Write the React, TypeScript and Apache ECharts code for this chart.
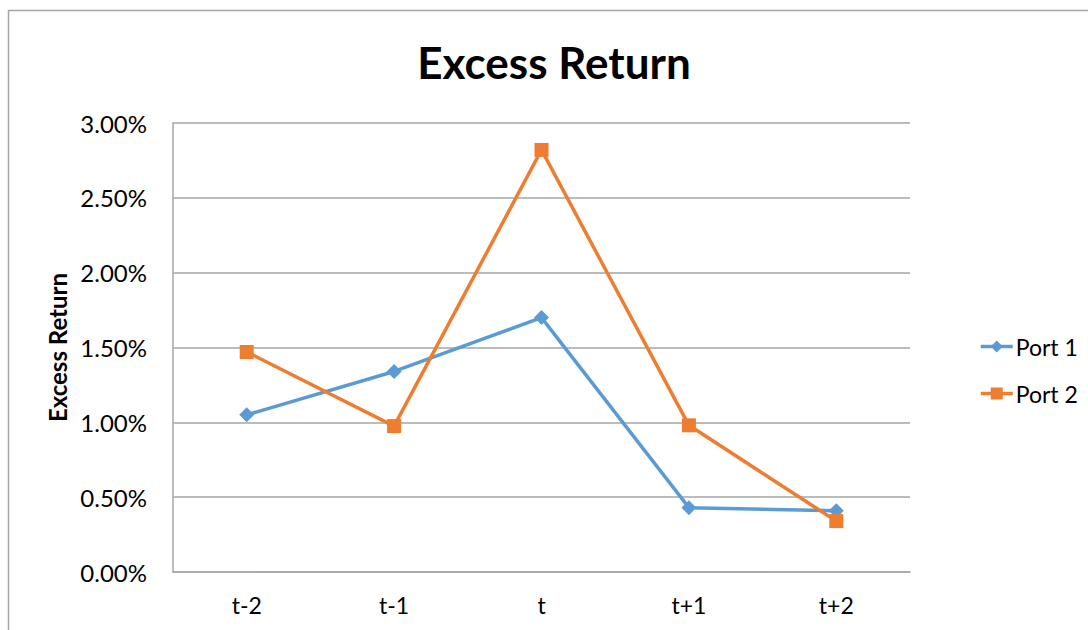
import React, { useEffect, useRef } from "react";
import * as echarts from "echarts";

const categories = ["t-2", "t-1", "t", "t+1", "t+2"];
const port1 = [1.05, 1.34, 1.7, 0.43, 0.41];
const port2 = [1.47, 0.975, 2.82, 0.98, 0.34];
const yTicks = { min: 0, max: 3, interval: 0.5 };

const FONT = "Lato";

export default function App() {
  const ref = useRef<HTMLDivElement>(null);
  useEffect(() => {
    if (!ref.current) return;
    const chart = echarts.init(ref.current, null, { renderer: "svg" });
    chart.setOption({
      animation: false,
      backgroundColor: "#ffffff",
      textStyle: { fontFamily: FONT },
      title: {
        text: "Excess Return",
        left: 549,
        textAlign: "center",
        top: 35,
        textStyle: { fontFamily: FONT, fontSize: 44, fontWeight: "bold", color: "#000000" },
      },
      graphic: [
        {
          type: "rect",
          shape: { x: 8.5, y: 10.5, width: 1100, height: 700 },
          style: { fill: "none", stroke: "#a6a6a6", lineWidth: 1.5 },
          silent: true,
        },
      ],
      legend: {
        orient: "vertical",
        left: 974,
        top: 329,
        itemWidth: 32,
        itemHeight: 15,
        itemGap: 22,
        lineStyle: { width: 3.5 },
        textStyle: { fontFamily: FONT, fontSize: 23, color: "#000000", lineHeight: 25, padding: [0, 0, 0, -2] },
        data: ["Port 1", "Port 2"],
      },
      grid: { left: 173, right: 178, top: 123, bottom: 58 },
      xAxis: {
        type: "category",
        data: categories,
        boundaryGap: true,
        axisLine: { show: true, lineStyle: { color: "#a6a6a6", width: 1.5 } },
        axisTick: { show: false },
        axisLabel: { fontFamily: FONT, fontSize: 23, color: "#000000", margin: 21 },
      },
      yAxis: {
        type: "value",
        min: yTicks.min,
        max: yTicks.max,
        interval: yTicks.interval,
        name: "Excess Return",
        nameLocation: "middle",
        nameRotate: 90,
        nameGap: 104,
        nameTextStyle: { fontFamily: FONT, fontSize: 24, fontWeight: "bold", color: "#000000" },
        axisLine: { show: true, lineStyle: { color: "#a6a6a6", width: 1.5 } },
        axisTick: { show: false },
        splitLine: { show: true, lineStyle: { color: "#a6a6a6", width: 1.5 } },
        axisLabel: {
          fontFamily: FONT,
          fontSize: 24,
          color: "#000000",
          margin: 26,
          formatter: (v: number) => v.toFixed(2) + "%",
        },
      },
      series: [
        {
          name: "Port 1",
          type: "line",
          data: port1,
          symbol: "diamond",
          symbolSize: 15,
          lineStyle: { color: "#5b9bd5", width: 3.5 },
          itemStyle: { color: "#5b9bd5" },
        },
        {
          name: "Port 2",
          type: "line",
          data: port2,
          symbol: "rect",
          symbolSize: 14,
          lineStyle: { color: "#ed7d31", width: 3.5 },
          itemStyle: { color: "#ed7d31" },
        },
      ],
    });
    return () => chart.dispose();
  }, []);
  return (
    <div
      ref={ref}
      style={{ position: "fixed", left: 0, top: 0, width: 1088, height: 630 }}
    />
  );
}
